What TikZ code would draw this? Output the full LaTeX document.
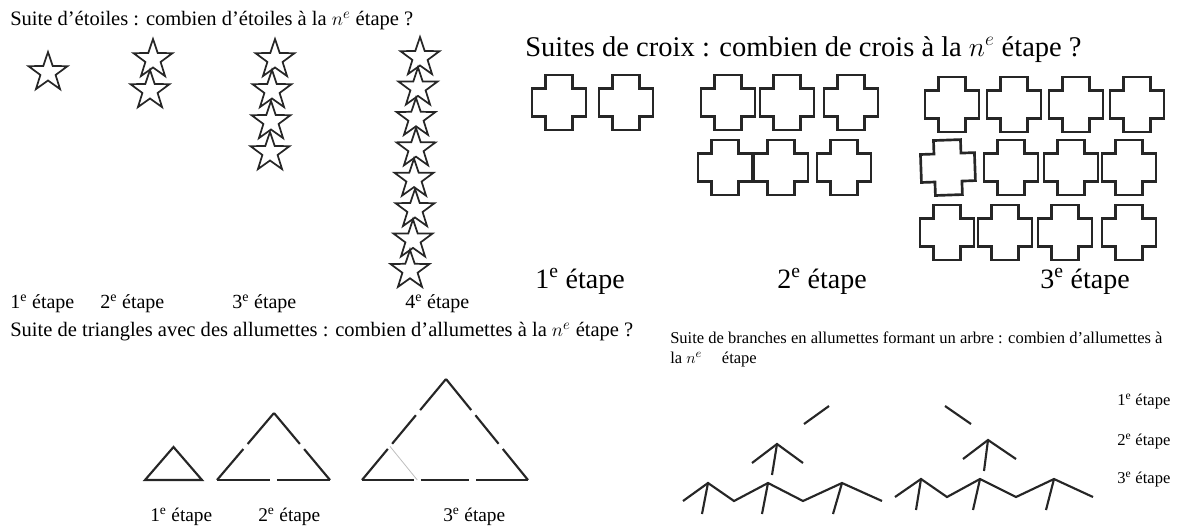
\documentclass[tikz,border=0pt]{standalone}
\usepackage{fontspec}
\setmainfont{Liberation Serif}
\usetikzlibrary{calc}
\begin{document}
\begin{tikzpicture}[x=0.75pt,y=-0.75pt,
  txt/.style={inner sep=0pt, anchor=base west},
  ftitle/.style={txt, font=\fontsize{15.4}{18}\selectfont},
  flabel/.style={txt, font=\fontsize{15}{18}\selectfont},
  fbig/.style={txt, font=\fontsize{21.4}{25}\selectfont},
  fbiglab/.style={txt, font=\fontsize{21}{25}\selectfont},
  ftri/.style={txt, font=\fontsize{14.5}{17}\selectfont},
  ftree/.style={txt, font=\fontsize{12.4}{15}\selectfont},
  starline/.style={draw=black!85, line width=1.3pt, line join=miter},
  crossline/.style={draw=black!85, line width=2pt, line join=miter},
  match/.style={draw=black!85, line width=1.6pt},
  pics/etoile/.style={code={
    \draw[starline] (270:20.5) -- (306:8) -- (342:20.5) -- (18:8) -- (54:20.5) -- (90:8)
      -- (126:20.5) -- (162:8) -- (198:20.5) -- (234:8) -- cycle;}},
  pics/croix/.style={code={
    \draw[crossline] (13.5,0) -- (40.5,0) -- (40.5,13.5) -- (54,13.5) -- (54,41.5) -- (40.5,41.5)
      -- (40.5,55) -- (13.5,55) -- (13.5,41.5) -- (0,41.5) -- (0,13.5) -- (13.5,13.5) -- cycle;}}
]
\useasboundingbox (0,0) rectangle (1192,526);

% ---------- Stars ----------
\node[ftitle] (titleStars) at (10,25) {Suite d’étoiles : combien d’étoiles à la $n^e$ étape ?};
\pic at (48,72.5) {etoile};
\foreach \x/\y in {153/59.5,150/90.5} \pic at (\x,\y) {etoile};
\foreach \x/\y in {275/59.5,272/90.5,271/121.5,270/152.5} \pic at (\x,\y) {etoile};
\foreach \x/\y in {420/57.5,418/87.9,416/118.3,416/148.7,414/179.1,415/209.5,413/239.9,410/270.3} \pic at (\x,\y) {etoile};
\node[flabel] (s1) at (10,308) {1\textsuperscript{e} étape};
\node[flabel] (s2) at (100,308) {2\textsuperscript{e} étape};
\node[flabel] (s3) at (232,308) {3\textsuperscript{e} étape};
\node[flabel] (s4) at (405,308) {4\textsuperscript{e} étape};

% ---------- Crosses ----------
\node[fbig] (titleCross) at (525,56) {Suites de croix : combien de crois à la $n^e$ étape ?};
\foreach \x/\y in {532/75,599/75} \pic at (\x,\y) {croix};
\foreach \x/\y in {701/75,760/75,824/75,698/140,754/140,817/140} \pic at (\x,\y) {croix};
\foreach \x/\y in {925/77,987/77,1049/77,1110/77,984/140,1044/140,1102/140,920/205,978/205,1038/205,1102/205} \pic at (\x,\y) {croix};
\pic[rotate=2] at (920,141) {croix};
\node[fbiglab] (c1) at (535,288) {1\textsuperscript{e} étape};
\node[fbiglab] (c2) at (777,288) {2\textsuperscript{e} étape};
\node[fbiglab] (c3) at (1040,288) {3\textsuperscript{e} étape};

% ---------- Triangles ----------
\node[ftitle] (titleTri) at (10,336) {Suite de triangles avec des allumettes : combien d’allumettes à la $n^e$ étape ?};
\coordinate (A1) at (145,480); \coordinate (B1) at (202,480); \coordinate (C1) at (173.5,447);
\draw[match, line join=miter] (A1) -- (B1) -- (C1) -- cycle;
\coordinate (A2) at (217,480); \coordinate (B2) at (330,480); \coordinate (C2) at (274,413);
\foreach \p/\q in {A2/B2,B2/C2,C2/A2}{
  \draw[match, shorten >=2.5pt] (\p) -- ($(\p)!0.5!(\q)$);
  \draw[match, shorten <=2.5pt] ($(\p)!0.5!(\q)$) -- (\q);
}
\coordinate (A3) at (362,480); \coordinate (B3) at (528,480); \coordinate (C3) at (446,379);
\draw[black!25, line width=0.6pt] ($(A3)!0.333!(C3)$) -- ($(A3)!0.333!(B3)$);
\foreach \p/\q in {A3/B3,B3/C3,C3/A3}{
  \draw[match, shorten >=2.5pt] (\p) -- ($(\p)!0.333!(\q)$);
  \draw[match, shorten <=2.5pt, shorten >=2.5pt] ($(\p)!0.333!(\q)$) -- ($(\p)!0.667!(\q)$);
  \draw[match, shorten <=2.5pt] ($(\p)!0.667!(\q)$) -- (\q);
}
\node[ftri] (t1) at (150,521) {1\textsuperscript{e} étape};
\node[ftri] (t2) at (258,521) {2\textsuperscript{e} étape};
\node[ftri] (t3) at (443,521) {3\textsuperscript{e} étape};

% ---------- Trees ----------
\node[ftree] (titleTree1) at (670,343) {Suite de branches en allumettes formant un arbre : combien d’allumettes à};
\node[ftree] (titleTree2) at (670,363) {la $n^e$\hspace{1.2em}étape};
\node[ftree] (r1) at (1117,405) {1\textsuperscript{e} étape};
\node[ftree] (r2) at (1117,445) {2\textsuperscript{e} étape};
\node[ftree] (r3) at (1117,483) {3\textsuperscript{e} étape};

% left tree
\draw[match] (804,424) -- (829,406);
\draw[match] (752,463) -- (777,444) -- (803,463);
\draw[match] (777,444) -- (772,475);
\draw[match] (683,501) -- (708,483) -- (734,501) -- (768,483) -- (803,501) -- (842,483) -- (882,501);
\draw[match] (708,483) -- (702,514);
\draw[match] (768,483) -- (762,514);
\draw[match] (842,483) -- (833,514);
% right tree
\draw[match] (945,406) -- (971,424);
\draw[match] (963,459) -- (988,440) -- (1016,459);
\draw[match] (988,440) -- (984,471);
\draw[match] (895,497) -- (921,479) -- (947,497) -- (980,479) -- (1016,497) -- (1054,479) -- (1093,497);
\draw[match] (921,479) -- (916,510);
\draw[match] (980,479) -- (973,510);
\draw[match] (1054,479) -- (1046,510);
\end{tikzpicture}
\end{document}
